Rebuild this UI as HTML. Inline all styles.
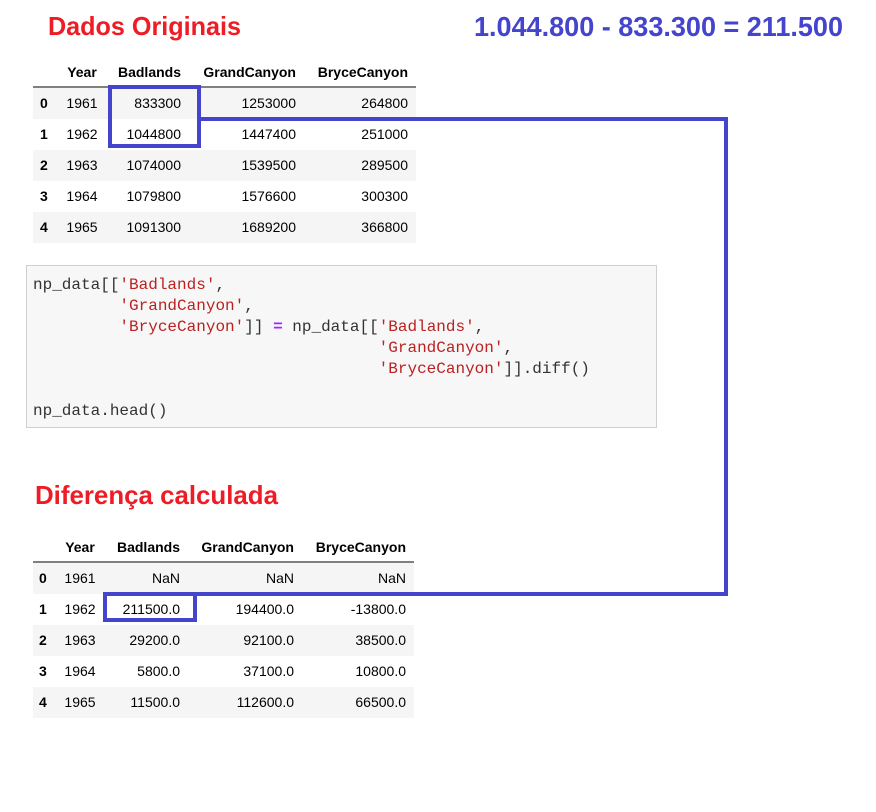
<!DOCTYPE html>
<html><head><meta charset="utf-8"><style>
html,body{margin:0;padding:0;background:#fff;width:876px;height:812px;overflow:hidden}
svg text{font-family:"Liberation Sans",Arial,sans-serif}
.h text{font-weight:bold;font-size:14px;fill:#000}
.d text{font-size:14px;fill:#000}
svg .c text{font-family:"Liberation Mono","DejaVu Sans Mono",monospace;font-size:16px;fill:#333}
.s{fill:#ba2121}
</style></head><body>
<svg width="876" height="812" xmlns="http://www.w3.org/2000/svg">
<text x="48" y="35" font-size="26" font-weight="bold" fill="#ee1c25" textLength="193" lengthAdjust="spacingAndGlyphs">Dados Originais</text>
<text x="474" y="36" font-size="28" font-weight="bold" fill="#4444cc" textLength="369" lengthAdjust="spacingAndGlyphs">1.044.800 - 833.300 = 211.500</text>

<!-- table 1 -->
<rect x="33" y="88" width="383" height="31" fill="#f5f5f5"/>
<rect x="33" y="150" width="383" height="31" fill="#f5f5f5"/>
<rect x="33" y="212" width="383" height="31" fill="#f5f5f5"/>
<line x1="33" y1="87" x2="416" y2="87" stroke="#000" stroke-width="1"/>
<g class="h">
<text x="82" y="77" text-anchor="middle">Year</text>
<text x="181" y="77" text-anchor="end">Badlands</text>
<text x="296" y="77" text-anchor="end">GrandCanyon</text>
<text x="408" y="77" text-anchor="end">BryceCanyon</text>
<text x="40" y="108">0</text><text x="40" y="139">1</text><text x="40" y="170">2</text><text x="40" y="201">3</text><text x="40" y="232">4</text>
</g>
<g class="d">
<text x="82" y="108" text-anchor="middle">1961</text><text x="181" y="108" text-anchor="end">833300</text><text x="296" y="108" text-anchor="end">1253000</text><text x="408" y="108" text-anchor="end">264800</text>
<text x="82" y="139" text-anchor="middle">1962</text><text x="181" y="139" text-anchor="end">1044800</text><text x="296" y="139" text-anchor="end">1447400</text><text x="408" y="139" text-anchor="end">251000</text>
<text x="82" y="170" text-anchor="middle">1963</text><text x="181" y="170" text-anchor="end">1074000</text><text x="296" y="170" text-anchor="end">1539500</text><text x="408" y="170" text-anchor="end">289500</text>
<text x="82" y="201" text-anchor="middle">1964</text><text x="181" y="201" text-anchor="end">1079800</text><text x="296" y="201" text-anchor="end">1576600</text><text x="408" y="201" text-anchor="end">300300</text>
<text x="82" y="232" text-anchor="middle">1965</text><text x="181" y="232" text-anchor="end">1091300</text><text x="296" y="232" text-anchor="end">1689200</text><text x="408" y="232" text-anchor="end">366800</text>
</g>

<!-- code -->
<rect x="26.5" y="265.5" width="630" height="162" fill="#f7f7f7" stroke="#cfcfcf"/>
<g class="c">
<text x="33" y="289">np_data[[<tspan class="s">'Badlands'</tspan>,</text>
<text x="33" y="310" xml:space="preserve">         <tspan class="s">'GrandCanyon'</tspan>,</text>
<text x="33" y="331" xml:space="preserve">         <tspan class="s">'BryceCanyon'</tspan>]] <tspan fill="#aa22ff" font-weight="bold">=</tspan> np_data[[<tspan class="s">'Badlands'</tspan>,</text>
<text x="33" y="352" xml:space="preserve">                                    <tspan class="s">'GrandCanyon'</tspan>,</text>
<text x="33" y="373" xml:space="preserve">                                    <tspan class="s">'BryceCanyon'</tspan>]].diff()</text>
<text x="33" y="415">np_data.head()</text>
</g>

<text x="35" y="504" font-size="26" font-weight="bold" fill="#ee1c25" textLength="243" lengthAdjust="spacingAndGlyphs">Diferença calculada</text>

<!-- table 2 -->
<rect x="33" y="563" width="381" height="31" fill="#f5f5f5"/>
<rect x="33" y="625" width="381" height="31" fill="#f5f5f5"/>
<rect x="33" y="687" width="381" height="31" fill="#f5f5f5"/>
<line x1="33" y1="562" x2="414" y2="562" stroke="#000" stroke-width="1"/>
<g class="h">
<text x="80" y="552" text-anchor="middle">Year</text>
<text x="180" y="552" text-anchor="end">Badlands</text>
<text x="294" y="552" text-anchor="end">GrandCanyon</text>
<text x="406" y="552" text-anchor="end">BryceCanyon</text>
<text x="39" y="583">0</text><text x="39" y="614">1</text><text x="39" y="645">2</text><text x="39" y="676">3</text><text x="39" y="707">4</text>
</g>
<g class="d">
<text x="80" y="583" text-anchor="middle">1961</text><text x="180" y="583" text-anchor="end">NaN</text><text x="294" y="583" text-anchor="end">NaN</text><text x="406" y="583" text-anchor="end">NaN</text>
<text x="80" y="614" text-anchor="middle">1962</text><text x="180" y="614" text-anchor="end">211500.0</text><text x="294" y="614" text-anchor="end">194400.0</text><text x="406" y="614" text-anchor="end">-13800.0</text>
<text x="80" y="645" text-anchor="middle">1963</text><text x="180" y="645" text-anchor="end">29200.0</text><text x="294" y="645" text-anchor="end">92100.0</text><text x="406" y="645" text-anchor="end">38500.0</text>
<text x="80" y="676" text-anchor="middle">1964</text><text x="180" y="676" text-anchor="end">5800.0</text><text x="294" y="676" text-anchor="end">37100.0</text><text x="406" y="676" text-anchor="end">10800.0</text>
<text x="80" y="707" text-anchor="middle">1965</text><text x="180" y="707" text-anchor="end">11500.0</text><text x="294" y="707" text-anchor="end">112600.0</text><text x="406" y="707" text-anchor="end">66500.0</text>
</g>

<!-- blue highlights -->
<g fill="none" stroke="#4444cc" stroke-width="4">
<rect x="110" y="87" width="89" height="59"/>
<rect x="105" y="594" width="90" height="26"/>
<polyline points="199,119 726,119 726,594 195,594"/>
</g>
</svg>
</body></html>
